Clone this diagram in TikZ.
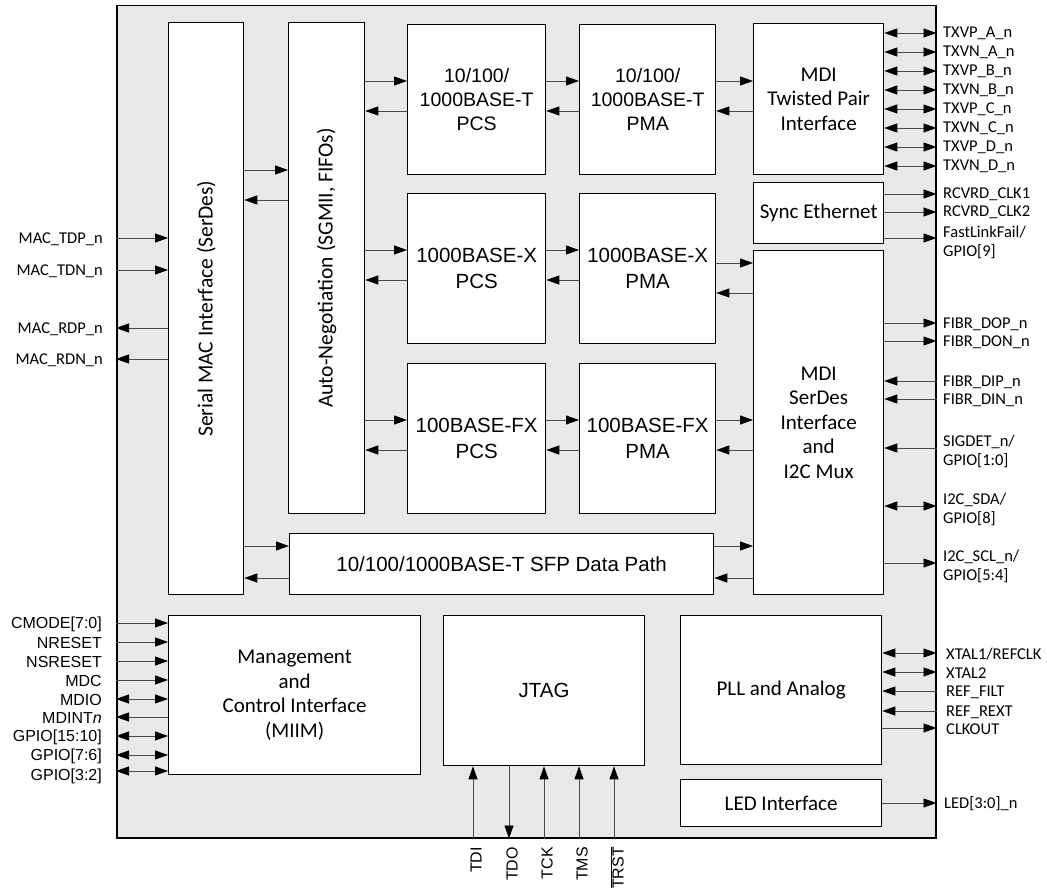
\documentclass[tikz,border=0pt]{standalone}
\usepackage{fontspec}
\setmainfont{Carlito}
\newfontfamily\arial{Liberation Sans}
\usetikzlibrary{arrows.meta}
\definecolor{chipgray}{HTML}{E8E8E8}
\definecolor{wire}{HTML}{4A4A4A}
\begin{document}
\begin{tikzpicture}[x=1pt,y=-1pt,
  blk/.style={draw=black, line width=1.3pt, fill=white, inner sep=0pt, anchor=north west,
    align=center, font=\fontsize{21}{24.5}\selectfont},
  ablk/.style={blk, font=\arial\fontsize{20.5}{26}\selectfont},
  tblk/.style={blk, font=\arial\fontsize{19.5}{24}\selectfont},
  vlbl/.style={rotate=90, inner sep=0pt, font=\fontsize{21.5}{24}\selectfont},
  tipA/.tip={Triangle[length=13pt,width=9pt,color=black,fill=black]},
  ar/.style={draw=wire, line width=0.9pt, -tipA},
  dar/.style={draw=wire, line width=0.9pt, tipA-tipA},
  pin/.style={inner sep=0pt, align=left, font=\fontsize{16.5}{19}\selectfont},
  apin/.style={inner sep=0pt, font=\arial\fontsize{16}{19}\selectfont},
]
\useasboundingbox (0,0) rectangle (1047,888);
\node[draw=black, line width=1.5pt, fill=chipgray, inner sep=0pt, anchor=north west,
  minimum width=819pt, minimum height=832pt] (chip) at (116,5) {};

% blocks
\node[blk, minimum width=75pt, minimum height=572pt] (mac) at (168,22) {};
\node[vlbl] (maclbl) at (mac.center) {Serial MAC Interface (SerDes)};
\node[blk, minimum width=76pt, minimum height=491pt] (an) at (288,22) {};
\node[vlbl] (anlbl) at (an.center) {Auto-Negotiation (SGMII, FIFOs)};
\node[tblk, minimum width=138pt, minimum height=150pt] (pcs1) at (407,24) {10/100/\\1000BASE-T\\PCS};
\node[tblk, minimum width=136pt, minimum height=150pt] (pma1) at (579,24) {10/100/\\1000BASE-T\\PMA};
\node[ablk, minimum width=138pt, minimum height=150pt] (pcs2) at (407,193) {1000BASE-X\\PCS};
\node[ablk, minimum width=136pt, minimum height=150pt] (pma2) at (579,193) {1000BASE-X\\PMA};
\node[ablk, minimum width=138pt, minimum height=150pt] (pcs3) at (407,363) {100BASE-FX\\PCS};
\node[ablk, minimum width=136pt, minimum height=150pt] (pma3) at (579,363) {100BASE-FX\\PMA};
\node[blk, minimum width=130pt, minimum height=151pt] (mdit) at (753,23) {MDI\\Twisted Pair\\Interface};
\node[blk, minimum width=130pt, minimum height=61pt] (sync) at (753,182) {Sync Ethernet};
\node[blk, minimum width=130pt, minimum height=344pt] (mdis) at (753,250) {MDI\\SerDes\\Interface\\and\\I2C Mux};
\node[ablk, minimum width=424pt, minimum height=61pt] (sfp) at (289,533) {10/100/1000BASE-T SFP Data Path};
\node[blk, minimum width=252pt, minimum height=159pt] (mgmt) at (168,615) {Management\\and\\Control Interface\\(MIIM)};
\node[ablk, minimum width=201pt, minimum height=150pt] (jtag) at (443,615) {JTAG};
\node[blk, minimum width=201pt, minimum height=149pt] (pll) at (680,615) {PLL and Analog};
\node[blk, minimum width=201pt, minimum height=47pt] (led) at (680,779) {LED Interface};

% internal connectors
\draw[ar] (mac.east |- 0,170) -- (an.west |- 0,170);
\draw[ar] (an.west |- 0,200) -- (mac.east |- 0,200);
\draw[ar] (an.east |- 0,81) -- (pcs1.west |- 0,81);
\draw[ar] (pcs1.west |- 0,111) -- (an.east |- 0,111);
\draw[ar] (pcs1.east |- 0,81) -- (pma1.west |- 0,81);
\draw[ar] (pma1.west |- 0,111) -- (pcs1.east |- 0,111);
\draw[ar] (pma1.east |- 0,81) -- (mdit.west |- 0,81);
\draw[ar] (mdit.west |- 0,111) -- (pma1.east |- 0,111);
\draw[ar] (an.east |- 0,250) -- (pcs2.west |- 0,250);
\draw[ar] (pcs2.west |- 0,280) -- (an.east |- 0,280);
\draw[ar] (pcs2.east |- 0,250) -- (pma2.west |- 0,250);
\draw[ar] (pma2.west |- 0,280) -- (pcs2.east |- 0,280);
\draw[ar] (pma2.east |- 0,263) -- (mdis.west |- 0,263);
\draw[ar] (mdis.west |- 0,293) -- (pma2.east |- 0,293);
\draw[ar] (an.east |- 0,420) -- (pcs3.west |- 0,420);
\draw[ar] (pcs3.west |- 0,450) -- (an.east |- 0,450);
\draw[ar] (pcs3.east |- 0,420) -- (pma3.west |- 0,420);
\draw[ar] (pma3.west |- 0,450) -- (pcs3.east |- 0,450);
\draw[ar] (pma3.east |- 0,420) -- (mdis.west |- 0,420);
\draw[ar] (mdis.west |- 0,450) -- (pma3.east |- 0,450);
\draw[ar] (mac.east |- 0,546) -- (sfp.west |- 0,546);
\draw[ar] (sfp.west |- 0,578) -- (mac.east |- 0,578);
\draw[ar] (sfp.east |- 0,546) -- (mdis.west |- 0,546);
\draw[ar] (mdis.west |- 0,578) -- (sfp.east |- 0,578);

% left MAC pins
\draw[ar] (chip.west |- 0,238) -- (mac.west |- 0,238);
\draw[ar] (chip.west |- 0,270) -- (mac.west |- 0,270);
\draw[ar] (mac.west |- 0,328) -- (chip.west |- 0,328);
\draw[ar] (mac.west |- 0,359) -- (chip.west |- 0,359);
\node[pin, anchor=east] (ptdp) at (103,239) {MAC\_TDP\_n};
\node[pin, anchor=east] (ptdn) at (103,271) {MAC\_TDN\_n};
\node[pin, anchor=east] (prdp) at (103,329) {MAC\_RDP\_n};
\node[pin, anchor=east] (prdn) at (103,360) {MAC\_RDN\_n};

% management pins
\draw[ar] (chip.west |- 0,623) -- (mgmt.west |- 0,623);
\draw[ar] (chip.west |- 0,642) -- (mgmt.west |- 0,642);
\draw[ar] (chip.west |- 0,661) -- (mgmt.west |- 0,661);
\draw[ar] (chip.west |- 0,680) -- (mgmt.west |- 0,680);
\draw[dar] (chip.west |- 0,699) -- (mgmt.west |- 0,699);
\draw[ar] (mgmt.west |- 0,717) -- (chip.west |- 0,717);
\draw[dar] (chip.west |- 0,736) -- (mgmt.west |- 0,736);
\draw[dar] (chip.west |- 0,755) -- (mgmt.west |- 0,755);
\draw[dar] (chip.west |- 0,771) -- (mgmt.west |- 0,771);
\node[apin, anchor=east] (pcm) at (102,624) {CMODE[7:0]};
\node[apin, anchor=east] (pnr) at (102,643) {NRESET};
\node[apin, anchor=east] (pns) at (102,662) {NSRESET};
\node[apin, anchor=east] (pmdc) at (102,681) {MDC};
\node[apin, anchor=east] (pmdio) at (102,700) {MDIO};
\node[apin, anchor=east] (pmdint) at (102,718) {MDINT\textit{n}};
\node[apin, anchor=east] (pg1) at (102,737) {GPIO[15:10]};
\node[apin, anchor=east] (pg2) at (102,756) {GPIO[7:6]};
\node[apin, anchor=east] (pg3) at (102,776) {GPIO[3:2]};

% twisted pair pins
\foreach \lab [count=\i from 0] in {TXVP\_A\_n,TXVN\_A\_n,TXVP\_B\_n,TXVN\_B\_n,TXVP\_C\_n,TXVN\_C\_n,TXVP\_D\_n,TXVN\_D\_n}{
  \draw[dar] (mdit.east |- 0,{33+19*\i}) -- (chip.east |- 0,{33+19*\i});
  \node[pin, anchor=west] (ptx\i) at (943,{33+19*\i}) {\lab};
}

% sync ethernet pins
\draw[ar] (sync.east |- 0,194) -- (chip.east |- 0,194);
\draw[ar] (sync.east |- 0,212) -- (chip.east |- 0,212);
\draw[ar] (sync.east |- 0,238) -- (chip.east |- 0,238);
\node[pin, anchor=west] (prc1) at (943,194) {RCVRD\_CLK1};
\node[pin, anchor=west] (prc2) at (943,212) {RCVRD\_CLK2};
\node[pin, anchor=west] (pflf) at (943,242) {FastLinkFail/\\GPIO[9]};

% serdes pins
\draw[ar] (mdis.east |- 0,323) -- (chip.east |- 0,323);
\draw[ar] (mdis.east |- 0,341) -- (chip.east |- 0,341);
\draw[ar] (chip.east |- 0,381) -- (mdis.east |- 0,381);
\draw[ar] (chip.east |- 0,399) -- (mdis.east |- 0,399);
\draw[ar] (chip.east |- 0,448) -- (mdis.east |- 0,448);
\draw[dar] (mdis.east |- 0,506) -- (chip.east |- 0,506);
\draw[ar] (mdis.east |- 0,563) -- (chip.east |- 0,563);
\node[pin, anchor=west] (pfdop) at (943,324) {FIBR\_DOP\_n};
\node[pin, anchor=west] (pfdon) at (943,342) {FIBR\_DON\_n};
\node[pin, anchor=west] (pfdip) at (943,382) {FIBR\_DIP\_n};
\node[pin, anchor=west] (pfdin) at (943,400) {FIBR\_DIN\_n};
\node[pin, anchor=west] (psig) at (943,451) {SIGDET\_n/\\GPIO[1:0]};
\node[pin, anchor=west] (psda) at (943,509) {I2C\_SDA/\\GPIO[8]};
\node[pin, anchor=west] (pscl) at (943,566) {I2C\_SCL\_n/\\GPIO[5:4]};

% PLL pins
\draw[dar] (pll.east |- 0,653) -- (chip.east |- 0,653);
\draw[dar] (pll.east |- 0,672) -- (chip.east |- 0,672);
\draw[ar] (chip.east |- 0,691) -- (pll.east |- 0,691);
\draw[ar] (chip.east |- 0,711) -- (pll.east |- 0,711);
\draw[ar] (pll.east |- 0,728) -- (chip.east |- 0,728);
\node[pin, anchor=west] (pxt1) at (946,654) {XTAL1/REFCLK};
\node[pin, anchor=west] (pxt2) at (946,673) {XTAL2};
\node[pin, anchor=west] (prf) at (946,692) {REF\_FILT};
\node[pin, anchor=west] (prr) at (946,712) {REF\_REXT};
\node[pin, anchor=west] (pclk) at (946,729) {CLKOUT};

% LED pin
\draw[ar] (led.east |- 0,803) -- (chip.east |- 0,803);
\node[pin, anchor=west] (pled) at (944,804) {LED[3:0]\_n};

% JTAG pins
\draw[ar] (chip.south -| 473,0) -- (jtag.south -| 473,0);
\draw[ar] (jtag.south -| 509,0) -- (chip.south -| 509,0);
\draw[ar] (chip.south -| 544,0) -- (jtag.south -| 544,0);
\draw[ar] (chip.south -| 579,0) -- (jtag.south -| 579,0);
\draw[ar] (chip.south -| 614,0) -- (jtag.south -| 614,0);
\node[apin, rotate=90, anchor=east] (ptdi) at (476,847) {TDI};
\node[apin, rotate=90, anchor=east] (ptdo) at (512,847) {TDO};
\node[apin, rotate=90, anchor=east] (ptck) at (547,847) {TCK};
\node[apin, rotate=90, anchor=east] (ptms) at (582,847) {TMS};
\node[apin, rotate=90, anchor=east] (ptrst) at (617,847) {$\overline{\mbox{TRST}}$};
\end{tikzpicture}
\end{document}
